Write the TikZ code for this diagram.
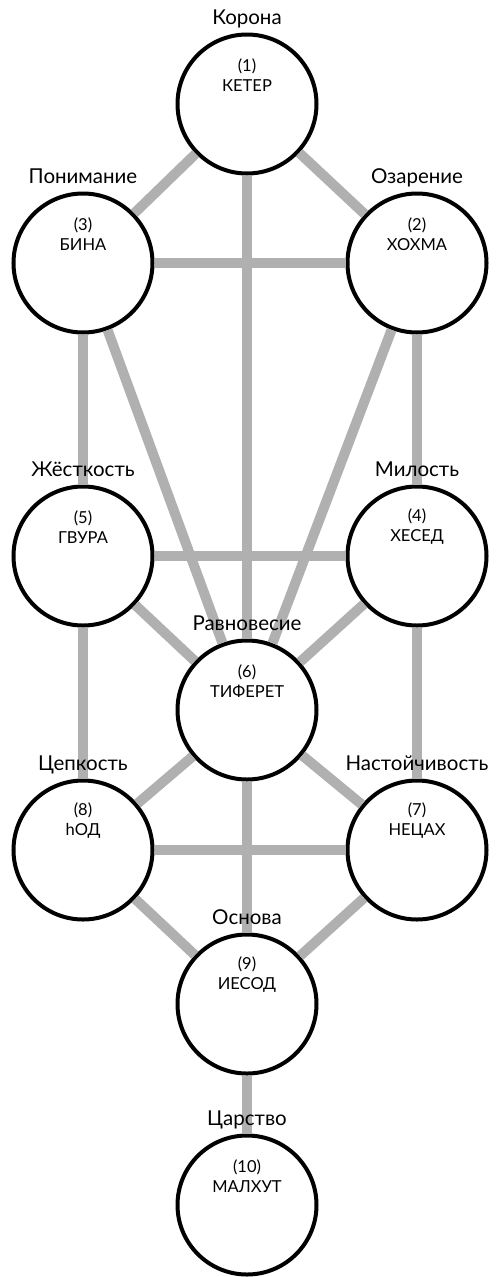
\documentclass[tikz,border=0pt]{standalone}
\usepackage{fontspec}
\setmainfont{Lato}
\definecolor{branchgray}{HTML}{B0B0B0}
\begin{document}
\begin{tikzpicture}[x=1pt, y=-1pt, thick,
		main/.style = {draw, circle, fill=white, line width=4pt, minimum size=139pt, inner sep=0pt},
		inner/.style = {font=\fontsize{16.5}{20}\selectfont, align=center, inner sep=0pt},
		title/.style = {font=\fontsize{20.5}{24}\selectfont, anchor=base, inner sep=0pt}]
			\useasboundingbox (0,0) rectangle (497,1277);
			\node[main] (1) at (247,104) {};
			\node[main] (2) at (417,263) {};
			\node[main] (3) at (83,263) {};
			\node[main] (4) at (417,556) {};
			\node[main] (5) at (83,556) {};
			\node[main] (6) at (247,710) {};
			\node[main] (7) at (417,850) {};
			\node[main] (8) at (83,850) {};
			\node[main] (9) at (247,1004) {};
			\node[main] (10) at (247,1205) {};
			\path[draw=branchgray, line width=10pt]
			(1) edge (2) (1) edge (3) (1) edge (6)
			(2) edge (3) (2) edge (4) (2) edge (6)
			(3) edge (5) (3) edge (6)
			(4) edge (5) (4) edge (6) (4) edge (7)
			(5) edge (6) (5) edge (8)
			(6) edge (7) (6) edge (8) (6) edge (9)
			(7) edge (8) (7) edge (9)
			(8) edge (9) (9) edge (10);
			\node[title] (1t) at ([yshift=80pt]1.center) {Корона};
			\node[title] (2t) at ([yshift=80pt]2.center) {Озарение};
			\node[title] (3t) at ([yshift=80pt]3.center) {Понимание};
			\node[title] (4t) at ([yshift=80pt]4.center) {Милость};
			\node[title] (5t) at ([yshift=80pt]5.center) {Жёсткость};
			\node[title] (6t) at ([yshift=80pt]6.center) {Равновесие};
			\node[title] (7t) at ([yshift=80pt]7.center) {Настойчивость};
			\node[title] (8t) at ([yshift=80pt]8.center) {Цепкость};
			\node[title] (9t) at ([yshift=80pt]9.center) {Основа};
			\node[title] (10t) at ([yshift=80pt]10.center) {Царство};
			\node[inner] (1n) at ([yshift=29pt]1.center) {(1)\\КЕТЕР};
			\node[inner] (2n) at ([yshift=29pt]2.center) {(2)\\ХОХМА};
			\node[inner] (3n) at ([yshift=29pt]3.center) {(3)\\БИНА};
			\node[inner] (4n) at ([yshift=29pt]4.center) {(4)\\ХЕСЕД};
			\node[inner] (5n) at ([yshift=29pt]5.center) {(5)\\ГВУРА};
			\node[inner] (6n) at ([yshift=29pt]6.center) {(6)\\ТИФЕРЕТ};
			\node[inner] (7n) at ([yshift=29pt]7.center) {(7)\\НЕЦАХ};
			\node[inner] (8n) at ([yshift=29pt]8.center) {(8)\\hОД};
			\node[inner] (9n) at ([yshift=29pt]9.center) {(9)\\ИЕСОД};
			\node[inner] (10n) at ([yshift=29pt]10.center) {(10)\\МАЛХУТ};
		\end{tikzpicture}
\end{document}
